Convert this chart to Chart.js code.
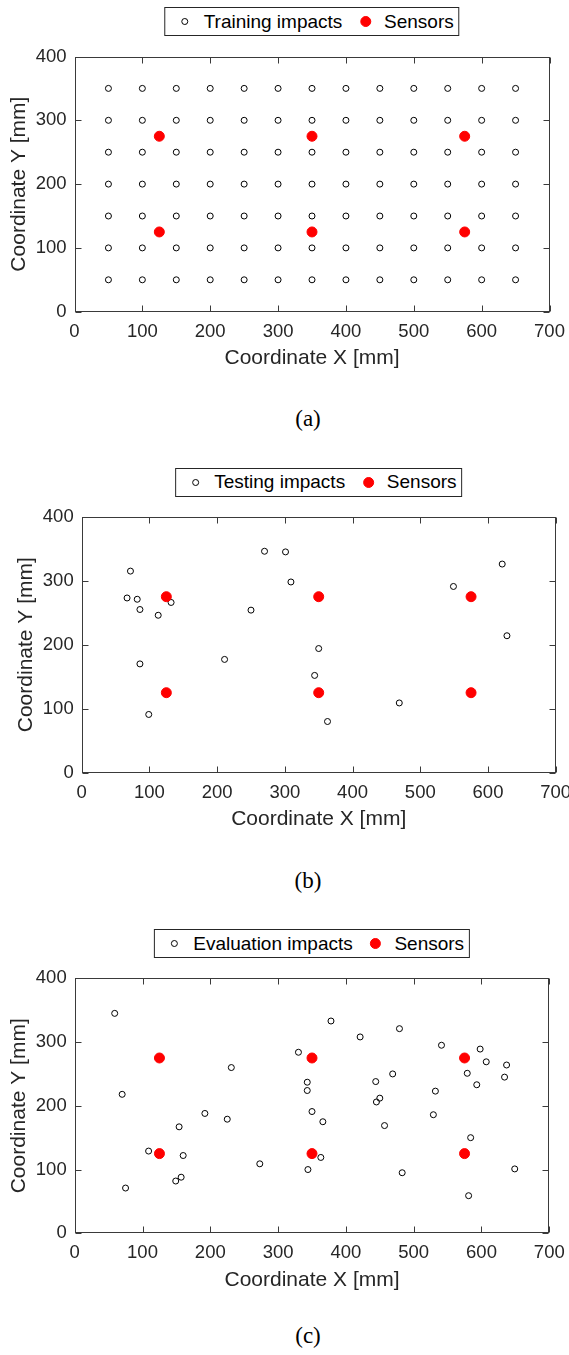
<!DOCTYPE html>
<html>
<head>
<meta charset="utf-8">
<script src="https://cdn.jsdelivr.net/npm/chart.js@4.4.1/dist/chart.umd.min.js"></script>
<style>
  body { margin: 0; background: #fff; }
  #page { position: relative; width: 569px; height: 1355px; overflow: hidden; font-family: "Liberation Sans", Arial, sans-serif; }
  #page canvas { position: absolute; left: 0; }
  .legend { position: absolute; transform: translateX(-50%); display: flex; align-items: center; height: 27px;
            border: 1px solid #262626; padding-right: 5px; font-size: 19px; color: #000; white-space: nowrap; background: #fff; }
  .legend .mk { display: inline-flex; justify-content: center; align-items: center; width: 12px; height: 12px; }
  .legend .mk i { display: block; border-radius: 50%; box-sizing: border-box; }
  .legend .txt { margin-left: 12.7px; }
  .caption { position: absolute; transform: translate(-50%, -50%); font-family: "Liberation Serif", "Times New Roman", serif;
             font-size: 23px; color: #000; }
</style>
</head>
<body>
<div id="page"></div>
<script>
// Training grid (mm)
const GRID_X = [50, 100, 150, 200, 250, 300, 350, 400, 450, 500, 550, 600, 650];
const GRID_Y = [50, 100, 150, 200, 250, 300, 350];

// Sensor locations (mm)
const SENSOR_X = [125, 350, 575, 125, 350, 575];
const SENSOR_Y = [275, 275, 275, 125, 125, 125];

// Testing impacts (mm)
const TEST_X = [72, 67, 82, 86, 113, 132, 86, 99, 211, 250, 270, 301, 309, 350, 344, 363, 469, 549, 621, 628];
const TEST_Y = [315, 273, 271, 255, 246, 266, 170, 91, 177, 254, 346, 345, 298, 194, 152, 80, 109, 291, 326, 214];

// Evaluation impacts (mm)
const EVAL_X = [59, 70, 75, 109, 154, 160, 157, 149, 192, 225, 231, 273, 330, 343, 343, 350, 344, 366, 363, 378,
                421, 479, 469, 444, 450, 445, 457, 483, 541, 532, 529, 598, 607, 579, 593, 637, 634, 584, 581, 649];
const EVAL_Y = [345, 218, 71, 129, 167, 122, 88, 82, 188, 179, 260, 109, 284, 237, 224, 191, 100, 175, 119, 333,
                308, 321, 250, 238, 212, 206, 169, 95, 295, 223, 186, 289, 269, 251, 233, 264, 245, 150, 59, 101];

const X_TICKS = [0, 100, 200, 300, 400, 500, 600, 700];
const Y_TICKS = [0, 100, 200, 300, 400];

const INK = '#262626';
Chart.defaults.font.family = '"Liberation Sans", Arial, sans-serif';

function toPoints(xs, ys) {
    return xs.map((x, i) => ({ x: x, y: ys[i] }));
}

function gridPoints() {
    const pts = [];
    GRID_Y.forEach(y => GRID_X.forEach(x => pts.push({ x: x, y: y })));
    return pts;
}

// MATLAB-like box around the axes with inward tick marks on all sides
const axesBox = {
    id: 'axesBox',
    afterDraw(chart) {
        const { ctx, chartArea: a, scales: { x, y } } = chart;
        const L = Math.round(a.left) + 0.5, R = Math.round(a.right) - 0.5;
        const T = Math.round(a.top) + 0.5, B = Math.round(a.bottom) - 0.5;
        const len = 6;
        ctx.save();
        ctx.strokeStyle = '#3a3a3a';
        ctx.lineWidth = 1;
        ctx.strokeRect(L, T, R - L, B - T);
        ctx.beginPath();
        x.ticks.forEach(t => {
            const px = Math.round(x.getPixelForValue(t.value)) + 0.5;
            ctx.moveTo(px, B); ctx.lineTo(px, B - len);
            ctx.moveTo(px, T); ctx.lineTo(px, T + len);
        });
        y.ticks.forEach(t => {
            const py = Math.round(y.getPixelForValue(t.value)) + 0.5;
            ctx.moveTo(L, py); ctx.lineTo(L + len, py);
            ctx.moveTo(R, py); ctx.lineTo(R - len, py);
        });
        ctx.stroke();
        ctx.restore();
    }
};

function buildLegend(chart, geo) {
    const box = document.createElement('div');
    box.className = 'legend';
    box.style.left = ((geo.left + geo.right) / 2) + 'px';
    box.style.top = geo.legendTop + 'px';
    chart.data.datasets.forEach((ds, i) => {
        const mk = document.createElement('span');
        mk.className = 'mk';
        mk.style.marginLeft = i === 0 ? '13.7px' : '17px';
        const dot = document.createElement('i');
        const d = ds.pointRadius * 2 + ds.pointBorderWidth;
        dot.style.width = d + 'px';
        dot.style.height = d + 'px';
        dot.style.border = ds.pointBorderWidth + 'px solid ' + ds.pointBorderColor;
        dot.style.background = ds.pointBackgroundColor;
        mk.appendChild(dot);
        const txt = document.createElement('span');
        txt.className = 'txt';
        txt.textContent = ds.label;
        box.appendChild(mk);
        box.appendChild(txt);
    });
    document.getElementById('page').appendChild(box);
}

function createPanel(geo, impactLabel, impacts) {
    const page = document.getElementById('page');
    const cTop = Math.floor(geo.top - 20);
    const cH = Math.ceil(geo.bottom - cTop + 80);
    const canvas = document.createElement('canvas');
    canvas.width = 569;
    canvas.height = cH;
    canvas.style.top = cTop + 'px';
    page.appendChild(canvas);

    const chart = new Chart(canvas, {
        type: 'scatter',
        data: {
            datasets: [{
                label: impactLabel,
                data: impacts,
                pointStyle: 'circle',
                pointRadius: 3,
                pointBorderWidth: 1,
                pointBorderColor: '#000000',
                pointBackgroundColor: 'rgba(0,0,0,0)',
                order: 1
            }, {
                label: 'Sensors',
                data: toPoints(SENSOR_X, SENSOR_Y),
                pointStyle: 'circle',
                pointRadius: 5,
                pointBorderWidth: 1,
                pointBorderColor: '#ff0000',
                pointBackgroundColor: '#ff0000',
                order: 0
            }]
        },
        options: {
            responsive: false,
            animation: false,
            events: [],
            layout: {
                padding: {
                    top: geo.top - cTop,
                    left: geo.left - 70,
                    right: 569 - geo.right,
                    bottom: cH - (geo.bottom - cTop) - 70
                }
            },
            plugins: { legend: { display: false }, tooltip: { enabled: false } },
            scales: {
                x: {
                    type: 'linear', min: 0, max: 700,
                    afterBuildTicks: s => { s.ticks = X_TICKS.map(v => ({ value: v })); },
                    ticks: { padding: 9, color: INK, font: { size: 18.5 } },
                    grid: { display: false, drawTicks: false },
                    border: { display: false },
                    title: { display: true, text: 'Coordinate X [mm]', color: INK, font: { size: 21 },
                             padding: { top: 0, bottom: 10.9 } },
                    afterFit: s => { s.height = 70; s.paddingLeft = 0; s.paddingRight = 0; }
                },
                y: {
                    type: 'linear', min: 0, max: 400,
                    afterBuildTicks: s => { s.ticks = Y_TICKS.map(v => ({ value: v })); },
                    ticks: { padding: 8, color: INK, font: { size: 18.5 } },
                    grid: { display: false, drawTicks: false },
                    border: { display: false },
                    title: { display: true, text: 'Coordinate Y [mm]', color: INK, font: { size: 21 },
                             padding: { top: 2.4, bottom: 0 } },
                    afterFit: s => { s.width = 70; s.paddingTop = 0; s.paddingBottom = 0; }
                }
            }
        },
        plugins: [axesBox]
    });

    buildLegend(chart, geo);

    const cap = document.createElement('div');
    cap.className = 'caption';
    cap.textContent = geo.caption;
    cap.style.left = geo.capX + 'px';
    cap.style.top = geo.capY + 'px';
    page.appendChild(cap);
    return chart;
}

createPanel({ left: 74.5, right: 549.5, top: 56.5, bottom: 311.7, legendTop: 7, caption: '(a)', capX: 308, capY: 419 },
            'Training impacts', gridPoints());
createPanel({ left: 81.7, right: 555.7, top: 516.7, bottom: 772.7, legendTop: 467.7, caption: '(b)', capX: 308, capY: 881 },
            'Testing impacts', toPoints(TEST_X, TEST_Y));
createPanel({ left: 74.7, right: 549.3, top: 978.3, bottom: 1233.3, legendTop: 929, caption: '(c)', capX: 308, capY: 1336 },
            'Evaluation impacts', toPoints(EVAL_X, EVAL_Y));
</script>
</body>
</html>
